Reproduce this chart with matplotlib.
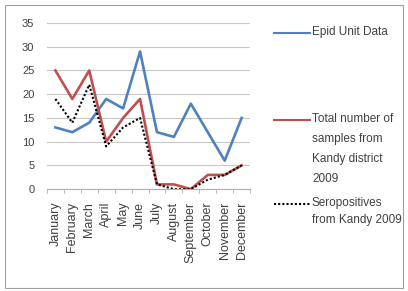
import numpy as np
import matplotlib
matplotlib.use("Agg")
import matplotlib.pyplot as plt
from matplotlib.lines import Line2D
from matplotlib.patches import Rectangle

# DATOS ---------------------------------------------------------------
months = ["January", "February", "March", "April", "May", "June", "July",
          "August", "September", "October", "November", "December"]
epid   = [13, 12, 14, 19, 17, 29, 12, 11, 18, 12, 6, 15]
total  = [25, 19, 25, 10, 15, 19, 1, 1, 0, 3, 3, 5]
sero   = [19, 14, 22, 9, 13, 15, 1, 0, 0, 2, 3, 5]

lbl_epid  = "Epid Unit Data"
lbl_total = "Total number of\nsamples from\nKandy district\n2009"
lbl_sero  = "Seropositives\nfrom Kandy 2009"

c_blue = "#4F81BD"
c_red  = "#C0504D"
c_txt  = "#404040"

plt.rcParams['font.family'] = ['Liberation Sans', 'DejaVu Sans']

fig = plt.figure(figsize=(4.08, 2.91), dpi=100)
fig.add_artist(Rectangle((0.012, 0.012), 0.976, 0.972, transform=fig.transFigure,
                         fill=False, edgecolor="#A0A0A0", linewidth=0.8))

ax = fig.add_axes([0.115, 0.35, 0.498, 0.571])
x = np.arange(len(months))
ax.plot(x, epid, color=c_blue, lw=1.9)
ax.plot(x, total, color=c_red, lw=1.9)
ax.plot(x, sero, color="black", lw=1.5, ls=(0, (1, 1)))

ax.set_xlim(-0.5, 11.5)
ax.set_ylim(0, 35)
ax.set_yticks(np.arange(0, 36, 5))
ax.yaxis.grid(True, color="#C8C8C8", lw=0.8)
ax.set_axisbelow(True)
for s in ["top", "right", "left"]:
    ax.spines[s].set_visible(False)
ax.spines["bottom"].set_color("#B0B0B0")
ax.set_xticks(x)
ax.set_xticklabels(months, rotation=90, fontsize=9, color=c_txt)
ax.set_xticks(np.arange(-0.5, 12, 1), minor=True)
ax.tick_params(axis="x", which="major", length=0, pad=9)
ax.tick_params(axis="x", which="minor", length=3, color="#B0B0B0")
ax.tick_params(axis="y", length=0, labelsize=8, labelcolor=c_txt, pad=9)

# LEYENDA -------------------------------------------------------------
entries = [(lbl_epid, c_blue, "-", 33, 1.5), (lbl_total, c_red, "-", 120, 1.9),
           (lbl_sero, "black", (0, (1, 1)), 204, 1.55)]
for lbl, col, ls, ypx, lsp in entries:
    yf = 1 - ypx / 291
    fig.add_artist(Line2D([274 / 408, 310 / 408], [yf, yf], transform=fig.transFigure,
                          color=col, lw=1.5, ls=ls))
    fig.text(312 / 408, yf + 7 / 291, lbl, fontsize=8.5, color=c_txt, va="top",
             linespacing=lsp, transform=fig.transFigure)

fig.savefig("out.png", dpi=100)
